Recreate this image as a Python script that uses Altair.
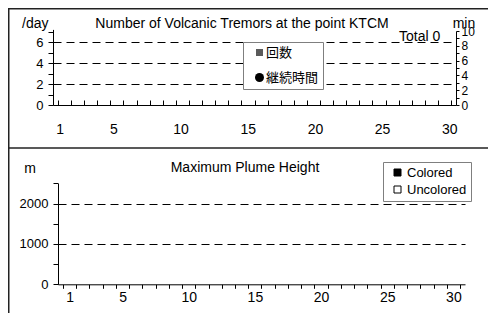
import altair as alt
import pandas as pd

# ---------------- data ----------------
days = [1, 2, 3, 4, 5, 6, 7, 8, 9, 10, 11, 12, 13, 14, 15,
        16, 17, 18, 19, 20, 21, 22, 23, 24, 25, 26, 27, 28, 29, 30]
tremor_counts = [0, 0, 0, 0, 0, 0, 0, 0, 0, 0, 0, 0, 0, 0, 0,
                 0, 0, 0, 0, 0, 0, 0, 0, 0, 0, 0, 0, 0, 0, 0]
tremor_minutes = [None, None, None, None, None, None, None, None, None, None,
                  None, None, None, None, None, None, None, None, None, None,
                  None, None, None, None, None, None, None, None, None, None]
plume_colored = [None, None, None, None, None, None, None, None, None, None,
                 None, None, None, None, None, None, None, None, None, None,
                 None, None, None, None, None, None, None, None, None, None]
plume_uncolored = [None, None, None, None, None, None, None, None, None, None,
                   None, None, None, None, None, None, None, None, None, None,
                   None, None, None, None, None, None, None, None, None, None]
tremor_total = 0

series_top = ["回数", "継続時間"]
series_bot = ["Colored", "Uncolored"]

x_label_days = [1, 5, 10, 15, 20, 25, 30]
x_bounds = [d - 0.5 for d in days] + [30.5]
count_ticks = [0, 1, 2, 3, 4, 5, 6, 7]
minute_ticks = [0, 1, 2, 3, 4, 5, 6, 7, 8, 9, 10]
plume_ticks = [0, 500, 1000, 1500, 2000, 2500]

title_top = "Number of Volcanic Tremors at the point KTCM"
title_bot = "Maximum Plume Height"

# ---------------- layout ----------------
W, H = 480, 305
FONT = "Liberation Sans"
JFONT = "Liberation Sans, Noto Sans CJK JP"

top_df = pd.DataFrame({"day": days, "count": tremor_counts, "minutes": tremor_minutes})
plume_df = pd.DataFrame({"day": days, "colored": plume_colored, "uncolored": plume_uncolored})
one = pd.DataFrame({"k": [0]})

TOP_AX_Y = 97
BOT_AX_Y = 276.3

x_top = alt.Scale(domain=[0.5, 30.5], range=[45, 448], nice=False, zero=False)
y_cnt = alt.Scale(domain=[0, 7.2], range=[TOP_AX_Y, 21.4], nice=False, zero=False)
y_min = alt.Scale(domain=[0, 10], range=[TOP_AX_Y, 23], nice=False, zero=False)
x_bot = alt.Scale(domain=[0.5, 30.5], range=[50, 457], nice=False, zero=False)
y_plume = alt.Scale(domain=[0, 2500], range=[BOT_AX_Y, 175.3], nice=False, zero=False)

ax_top_ticks = alt.Axis(orient="top", offset=-TOP_AX_Y, values=x_bounds, labels=False,
                        tickSize=5, domain=True, grid=False, title=None)
ax_top_labels = alt.Axis(orient="bottom", offset=TOP_AX_Y - H, values=x_label_days,
                         ticks=False, tickSize=0, domain=False, grid=False, labelPadding=17,
                         labelFontSize=14, labelFlush=False, format="d", title=None)
ax_cnt = alt.Axis(orient="left", offset=-45, values=count_ticks,
                  labelExpr="datum.value % 2 == 0 ? datum.label : ''",
                  tickSize=5, labelPadding=5, labelFontSize=13, format="d",
                  grid=True, gridDash=[8, 5], gridColor="black",
                  gridOpacity={"condition": {"test": "datum.value == 2 || datum.value == 4 || datum.value == 6",
                                             "value": 1}, "value": 0},
                  title=None)
ax_min = alt.Axis(orient="right", offset=448 - W, values=minute_ticks,
                  labelExpr="datum.value % 2 == 0 ? datum.label : ''",
                  tickSize=3, labelPadding=2, labelFontSize=12, format="d",
                  grid=False, title=None)
ax_bot_ticks = alt.Axis(orient="bottom", offset=BOT_AX_Y - H, values=x_bounds, labels=False,
                        tickSize=4, domain=True, grid=False, title=None)
ax_bot_labels = alt.Axis(orient="bottom", offset=BOT_AX_Y - H, values=x_label_days,
                         ticks=False, tickSize=0, domain=False, grid=False, labelPadding=6,
                         labelFontSize=14, labelFlush=False, format="d", title=None)
ax_plume = alt.Axis(orient="left", offset=-50, values=plume_ticks,
                    labelExpr="datum.value % 1000 == 0 ? datum.label : ''",
                    tickSize=5, labelPadding=5, labelFontSize=13, format="d",
                    grid=True, gridDash=[8, 5], gridColor="black",
                    gridOpacity={"condition": {"test": "datum.value == 1000 || datum.value == 2000",
                                               "value": 1}, "value": 0},
                    title=None)

# ---------------- data layers ----------------
count_bars = alt.Chart(top_df).mark_bar(size=8, color="#555555").encode(
    x=alt.X("day:Q", scale=x_top, axis=ax_top_ticks),
    y=alt.Y("count:Q", scale=y_cnt, axis=ax_cnt),
)
minute_pts = alt.Chart(top_df).mark_point(filled=True, color="black", size=60, opacity=1).encode(
    x=alt.X("day:Q", scale=x_top, axis=ax_top_labels),
    y=alt.Y("minutes:Q", scale=y_min, axis=ax_min),
)
plume_col = alt.Chart(plume_df).mark_bar(size=8, color="black").encode(
    x=alt.X("day:Q", scale=x_bot, axis=ax_bot_ticks),
    y=alt.Y("colored:Q", scale=y_plume, axis=ax_plume),
)
plume_unc = alt.Chart(plume_df).mark_bar(size=8, color="white", stroke="black").encode(
    x=alt.X("day:Q", scale=x_bot, axis=ax_bot_labels),
    y=alt.Y("uncolored:Q", scale=y_plume, axis=None),
)

# ---------------- legends ----------------
SQ = "M-0.78,-0.78H0.78V0.78H-0.78Z"
leg_top = alt.Legend(orient="none", legendX=235, legendY=34, title=None, padding=4,
                     strokeColor="#7f7f7f", fillColor="white", labelFont=JFONT,
                     labelFontSize=13, labelColor="black", symbolSize=81,
                     symbolStrokeColor="black", symbolStrokeWidth=1, symbolOpacity=1,
                     rowPadding=11, symbolOffset=6, labelOffset=0,
                     labelExpr="datum.label + '\u00a0\u00a0\u00a0\u00a0\u00a0\u00a0\u00a0\u00a0\u00a0'")
legend_top = alt.Chart(pd.DataFrame({"series": series_top})).mark_point(
    filled=True, opacity=0, size=81).encode(
    shape=alt.Shape("series:N", scale=alt.Scale(domain=series_top, range=[SQ, "circle"]), legend=leg_top),
    fill=alt.Fill("series:N", scale=alt.Scale(domain=series_top, range=["#5a5a5a", "#000000"]), legend=leg_top),
)
leg_bot = alt.Legend(orient="none", legendX=375, legendY=154, title=None, padding=4,
                     strokeColor="#7f7f7f", fillColor="white", labelFont=FONT,
                     labelFontSize=13, labelColor="black", symbolType="square", symbolSize=49,
                     symbolStrokeColor="black", symbolStrokeWidth=1, symbolOpacity=1,
                     rowPadding=3, symbolOffset=4, labelOffset=3,
                     labelExpr="datum.label + '\u00a0\u00a0\u00a0\u00a0'")
legend_bot = alt.Chart(pd.DataFrame({"series": series_bot})).mark_point(
    filled=True, opacity=0, size=49, shape="square").encode(
    fill=alt.Fill("series:N", scale=alt.Scale(domain=series_bot, range=["#000000", "#ffffff"]), legend=leg_bot),
)

# ---------------- texts & frame ----------------
def txt(s, x, y, size=14, align="left", font=FONT):
    return alt.Chart(one).mark_text(text=s, font=font, fontSize=size, align=align,
                                    baseline="alphabetic", color="black").encode(
        x=alt.value(x), y=alt.value(y))

texts = [
    txt(title_top, 234, 20.3, align="center"),
    txt("/day", 14, 20.3),
    txt("min", 444.7, 20.3),
    txt(f"Total {tremor_total}", 391, 32.5),
    txt(title_bot, 237, 163.7, align="center"),
    txt("m", 22, 165.3, align="center"),
]

def rule(x, x2, y, y2):
    return alt.Chart(one).mark_rule(color="#222222", strokeWidth=1.5).encode(
        x=alt.value(x), x2=alt.value(x2), y=alt.value(y), y2=alt.value(y2))

frame = [
    rule(0.75, 0.75, 0, H),
    rule(0, W, 0.75, 0.75),
    rule(0, W, 140, 140),
]

chart = alt.layer(
    *frame, count_bars, minute_pts, plume_col, plume_unc, *texts, legend_top, legend_bot
).resolve_scale(
    x="independent", y="independent", fill="independent", shape="independent"
).resolve_axis(
    x="independent", y="independent"
).resolve_legend(
    fill="independent", shape="independent"
).properties(
    width=W, height=H, autosize=alt.AutoSizeParams(type="none"), padding=0
).configure_view(
    strokeOpacity=0
).configure_axis(
    domainColor="black", tickColor="black", labelColor="black", labelFont=FONT,
    domainWidth=1, tickWidth=1
)

chart.save("out.html", embed_options={"renderer": "svg", "actions": False})
